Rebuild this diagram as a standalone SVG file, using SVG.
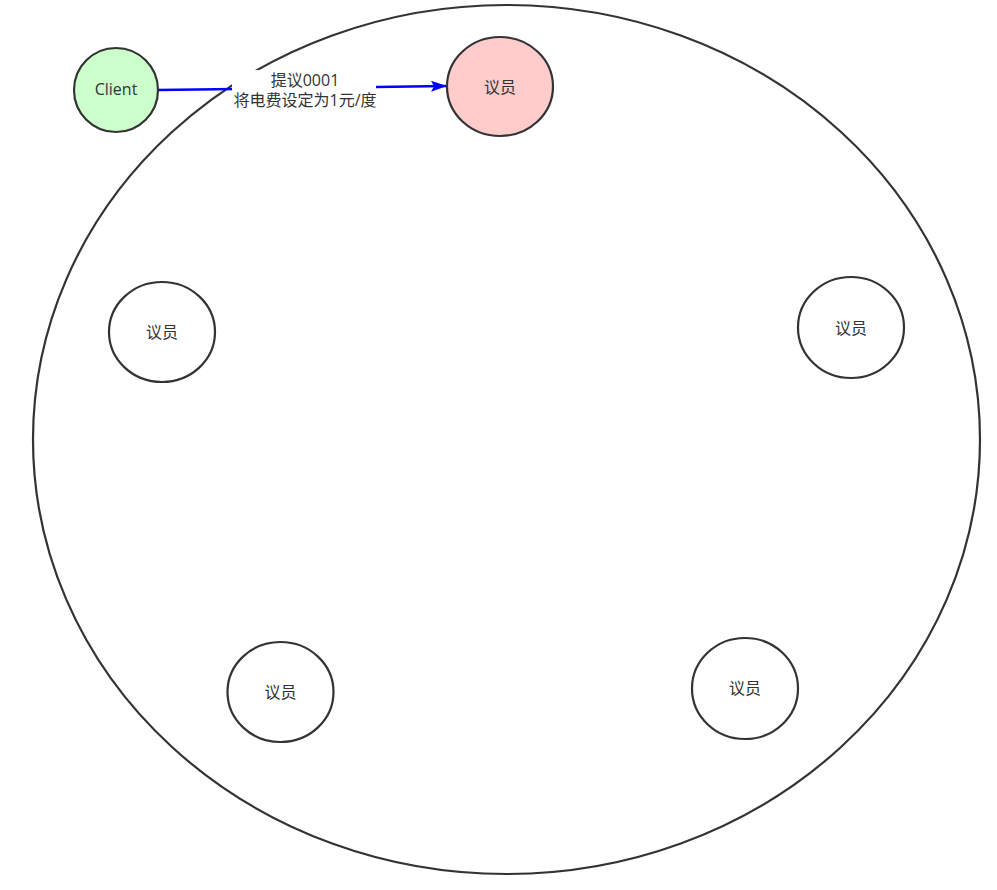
<svg xmlns="http://www.w3.org/2000/svg" width="997" height="890" viewBox="0 0 997 890">
<style>
.n{stroke:#333;stroke-width:2.2}
.t{font-family:"Open Sans","Noto Sans CJK SC",sans-serif;font-size:16px;fill:#333;text-anchor:middle;dominant-baseline:central}
</style>
<defs>
<marker id="ah" viewBox="0 0 16 12" refX="15" refY="6" markerWidth="16" markerHeight="12" markerUnits="userSpaceOnUse" orient="auto">
<path d="M0,0.5 L16,6 L0,11.5 L3,6 Z" fill="#0000ff"/>
</marker>
</defs>
<rect width="997" height="890" fill="#fff"/>
<g id="ring"><ellipse cx="506.5" cy="439.5" rx="473.5" ry="434.5" fill="none" class="n"/></g>
<g id="connectors">
<line x1="158" y1="90" x2="446" y2="86" stroke="#0000ff" stroke-width="2.5" marker-end="url(#ah)"/>
<rect x="232" y="70" width="144" height="40" fill="#fff"/>
<text class="t" x="305" y="80">提议0001</text>
<text class="t" x="305" y="100">将电费设定为1元/度</text>
</g>
<g id="client"><ellipse cx="116" cy="90" rx="42" ry="42" fill="#ccffcc" class="n"/><text class="t" x="116" y="89">Client</text></g>
<g id="leader"><ellipse cx="500" cy="86.5" rx="53" ry="49.5" fill="#ffcccc" class="n"/><text class="t" x="500" y="87">议员</text></g>
<g id="m1"><ellipse cx="162" cy="332" rx="53" ry="50" fill="#fff" class="n"/><text class="t" x="162" y="332">议员</text></g>
<g id="m2"><ellipse cx="851" cy="327.5" rx="53" ry="50.5" fill="#fff" class="n"/><text class="t" x="851" y="328">议员</text></g>
<g id="m3"><ellipse cx="280.5" cy="692" rx="53" ry="50" fill="#fff" class="n"/><text class="t" x="280.5" y="692">议员</text></g>
<g id="m4"><ellipse cx="745" cy="688.5" rx="53" ry="50.5" fill="#fff" class="n"/><text class="t" x="745" y="688">议员</text></g>
</svg>
